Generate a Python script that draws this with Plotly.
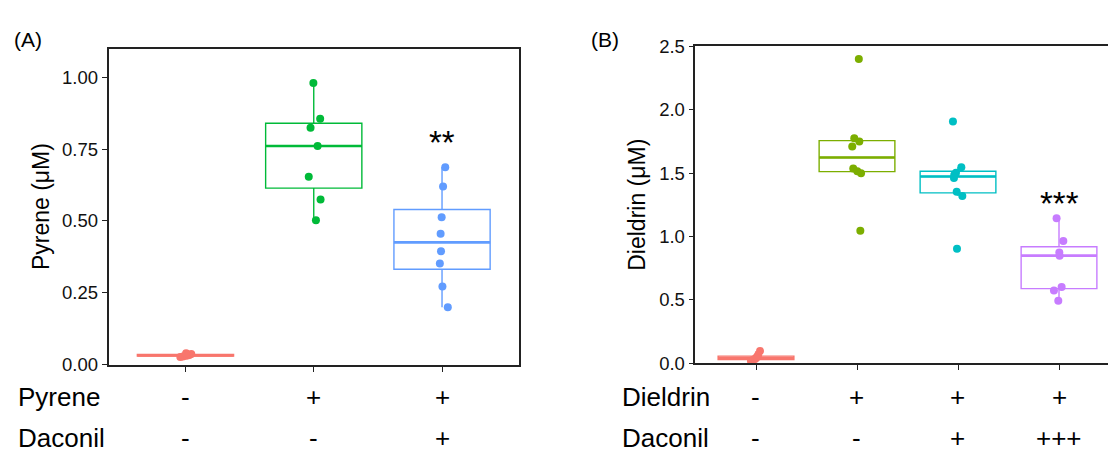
import numpy as np
import plotly.graph_objects as go

# ---------------- data ----------------
# Panel A (Pyrene)
a_pos = [1, 2, 3]
a_colors = ["#F8766D", "#00BA38", "#619CFF"]
a_ctrl = [0.027, 0.029, 0.031, 0.032, 0.034, 0.037, 0.040]
a_pyr = [0.980, 0.856, 0.824, 0.761, 0.654, 0.575, 0.503]
a_pyr_dac = [0.687, 0.620, 0.513, 0.456, 0.395, 0.352, 0.272, 0.200]
a_ctrl_jit = [-0.04, -0.02, 0.0, 0.015, 0.03, 0.045, 0.005]
a_pyr_jit = [-0.003, 0.05, -0.025, 0.03, -0.039, 0.053, 0.017]
a_pyr_dac_jit = [0.025, 0.008, -0.003, -0.011, -0.008, -0.017, 0.003, 0.045]
a_row1 = ["-", "+", "+"]
a_row2 = ["-", "-", "+"]
a_sig = ["", "", "**"]
a_sig_y = 0.80
a_yticks = [0.0, 0.25, 0.50, 0.75, 1.00]

# Panel B (Dieldrin)
b_pos = [1, 2, 3, 4]
b_colors = ["#F8766D", "#7CAE00", "#00BFC4", "#C77CFF"]
b_ctrl = [0.018, 0.024, 0.032, 0.040, 0.048, 0.062, 0.095]
b_diel = [2.40, 1.775, 1.749, 1.709, 1.535, 1.515, 1.498, 1.045]
b_diel_dac = [1.907, 1.545, 1.503, 1.485, 1.460, 1.352, 1.319, 0.903]
b_diel_dac3 = [1.143, 0.964, 0.872, 0.848, 0.601, 0.574, 0.493]
b_ctrl_jit = [-0.05, -0.03, -0.01, 0.0, 0.01, 0.02, 0.04]
b_diel_jit = [0.018, -0.027, 0.023, -0.047, -0.037, 0.003, 0.04, 0.033]
b_diel_dac_jit = [-0.05, 0.033, -0.02, -0.037, -0.04, -0.013, 0.043, -0.01]
b_diel_dac3_jit = [-0.024, 0.043, 0.003, 0.006, 0.026, -0.05, -0.007]
b_row1 = ["-", "+", "+", "+"]
b_row2 = ["-", "-", "+", "+++"]
b_sig = ["", "", "", "***"]
b_sig_y = 1.32
b_yticks = [0.0, 0.5, 1.0, 1.5, 2.0, 2.5]

a_data = [a_ctrl, a_pyr, a_pyr_dac]
a_jit = [a_ctrl_jit, a_pyr_jit, a_pyr_dac_jit]
b_data = [b_ctrl, b_diel, b_diel_dac, b_diel_dac3]
b_jit = [b_ctrl_jit, b_diel_jit, b_diel_dac_jit, b_diel_dac3_jit]

FONT = "Liberation Sans, Arial, sans-serif"
BOXW = 0.75
W, H = 1108, 459

fig = go.Figure()


def stats(v):
    v = np.asarray(v, dtype=float)
    q1, med, q3 = np.percentile(v, [25, 50, 75])
    iqr = q3 - q1
    lo = v[v >= q1 - 1.5 * iqr].min()
    hi = v[v <= q3 + 1.5 * iqr].max()
    return q1, med, q3, lo, hi


def add_panel(data, jits, pos, colors, xa, ya):
    for vals, jit, p, c in zip(data, jits, pos, colors):
        q1, med, q3, lo, hi = stats(vals)
        fig.add_trace(go.Box(
            x=[p], q1=[q1], median=[med], q3=[q3], lowerfence=[lo], upperfence=[hi],
            width=BOXW, whiskerwidth=0, boxpoints=False,
            line=dict(color=c, width=1.4), fillcolor="rgba(255,255,255,0)",
            xaxis=xa, yaxis=ya, showlegend=False, hoverinfo="skip"))
        fig.add_trace(go.Scatter(
            x=[p - BOXW / 2, p + BOXW / 2], y=[med, med], mode="lines",
            line=dict(color=c, width=2.6), xaxis=xa, yaxis=ya,
            showlegend=False, hoverinfo="skip"))
        fig.add_trace(go.Scatter(
            x=[p + j for j in jit], y=vals, mode="markers",
            marker=dict(color=c, size=8, line=dict(width=0)),
            xaxis=xa, yaxis=ya, showlegend=False))


add_panel(a_data, a_jit, a_pos, a_colors, "x", "y")
add_panel(b_data, b_jit, b_pos, b_colors, "x2", "y2")

axis_common = dict(showgrid=False, zeroline=False, showline=True, linecolor="#222",
                   linewidth=1.6, ticks="outside", ticklen=5, tickwidth=1.3,
                   tickcolor="#222", tickfont=dict(family=FONT, size=18.5, color="#111"))

a_left, a_right = 108.5, 519.0
b_left = 695.4
b_unit = 101.0

fig.update_layout(
    width=W, height=H, margin=dict(l=0, r=0, t=0, b=0),
    paper_bgcolor="white", plot_bgcolor="white", boxmode="overlay",
    font=dict(family=FONT, color="black"),
    xaxis=dict(domain=[a_left / W, a_right / W], range=[0.4, 3.6],
               tickvals=a_pos, ticktext=[""] * len(a_pos), mirror=True, **axis_common),
    yaxis=dict(domain=[(H - 370.7) / H, (H - 39.3) / H], range=[0, 1.1],
               tickvals=a_yticks, ticktext=[f"{v:.2f}" for v in a_yticks], mirror=True,
               title=dict(text="Pyrene (μM)", font=dict(family=FONT, size=23), standoff=6),
               **axis_common),
    xaxis2=dict(domain=[b_left / W, 1.0], range=[0.4, 0.4 + (W - b_left) / b_unit],
                tickvals=b_pos, ticktext=[""] * len(b_pos), mirror=True, anchor="y2",
                **axis_common),
    yaxis2=dict(domain=[(H - 369) / H, (H - 37) / H], range=[0, 2.5], anchor="x2",
                tickvals=b_yticks, ticktext=[f"{v:.1f}" for v in b_yticks],
                title=dict(text="Dieldrin (μM)", font=dict(family=FONT, size=23), standoff=7),
                **axis_common),
)

ann = []
# panel letters
ann.append(dict(text="(A)", x=12 / W, y=1 - 30 / H, xref="paper", yref="paper",
                xanchor="left", yanchor="middle", showarrow=False, font=dict(size=21)))
ann.append(dict(text="(B)", x=589 / W, y=1 - 30 / H, xref="paper", yref="paper",
                xanchor="left", yanchor="middle", showarrow=False, font=dict(size=21)))
# row labels
ROW1_Y, ROW2_Y = 404, 447.5
for name, xl, yy in [("Pyrene", 16, ROW1_Y), ("Daconil", 16, ROW2_Y),
                     ("Dieldrin", 620, ROW1_Y), ("Daconil", 620, ROW2_Y)]:
    ann.append(dict(text=name, x=xl / W, y=1 - yy / H, xref="paper", yref="paper",
                    xanchor="left", yanchor="middle", showarrow=False, font=dict(size=26)))
for xa, pos, r1, r2 in [("x", a_pos, a_row1, a_row2), ("x2", b_pos, b_row1, b_row2)]:
    for p, s1, s2 in zip(pos, r1, r2):
        ann.append(dict(text=s1, x=p, y=1 - ROW1_Y / H, xref=xa, yref="paper",
                        xanchor="center", yanchor="middle", showarrow=False, font=dict(size=26)))
        ann.append(dict(text=s2, x=p, y=1 - ROW2_Y / H, xref=xa, yref="paper",
                        xanchor="center", yanchor="middle", showarrow=False, font=dict(size=26)))
# significance
for xa, ya, pos, sig, sy in [("x", "y", a_pos, a_sig, a_sig_y), ("x2", "y2", b_pos, b_sig, b_sig_y)]:
    for p, s in zip(pos, sig):
        if s:
            ann.append(dict(text=s, x=p, y=sy, xref=xa, yref=ya, xanchor="center",
                            yanchor="middle", showarrow=False, font=dict(size=33), yshift=-8))
fig.update_layout(annotations=ann)

fig.write_html("out.html")
